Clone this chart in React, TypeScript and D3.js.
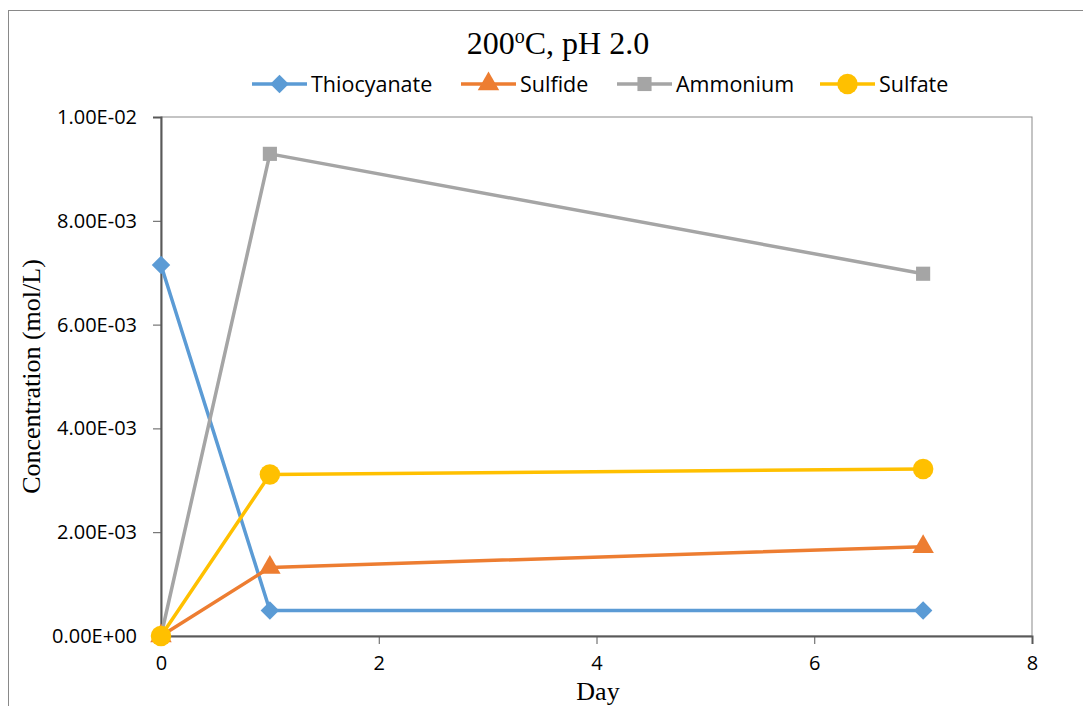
import React, { useEffect, useRef } from "react";
import * as d3 from "d3";

const days = [0, 1, 7];
const thiocyanate = [0.00715, 0.00049, 0.00049];
const sulfide = [0, 0.00132, 0.00172];
const ammonium = [0, 0.00929, 0.00698];
const sulfate = [0, 0.00311, 0.00322];
const seriesNames = ["Thiocyanate", "Sulfide", "Ammonium", "Sulfate"];
const seriesColors = ["#5B9BD5", "#ED7D31", "#A5A5A5", "#FFC000"];
const seriesShapes = ["diamond", "triangle", "square", "circle"];
const xTicks = [0, 2, 4, 6, 8];
const yTicks = [0, 0.002, 0.004, 0.006, 0.008, 0.01];

const App = () => {
  const ref = useRef<SVGSVGElement>(null);

  useEffect(() => {
    const svg = d3.select(ref.current);
    svg.selectAll("*").remove();

    const width = 1083;
    const height = 706;
    const margin = { top: 117, right: 51, bottom: 70, left: 161 };

    // outer chart border
    svg.append("rect")
      .attr("x", 8.5).attr("y", 10.5)
      .attr("width", 1200).attr("height", 800)
      .attr("fill", "white").attr("stroke", "#898989").attr("stroke-width", 1);

    const x = d3.scaleLinear().domain([0, 8]).range([margin.left, width - margin.right]);
    const y = d3.scaleLinear().domain([0, 0.01]).range([height - margin.bottom, margin.top]);

    // plot area frame
    svg.append("rect")
      .attr("x", x(0)).attr("y", y(0.01))
      .attr("width", x(8) - x(0)).attr("height", y(0) - y(0.01))
      .attr("fill", "none").attr("stroke", "#898989").attr("stroke-width", 1);

    const tickFont = "'Open Sans', Lato, sans-serif";
    const serif = "'Liberation Serif', 'Times New Roman', serif";

    // y axis
    const yAxis = svg.append("g")
      .attr("transform", `translate(${x(0)},0)`)
      .call(d3.axisLeft(y).tickValues(yTicks).tickSize(8).tickPadding(16)
        .tickFormat(d => (+d).toExponential(2).toUpperCase().replace(/E([+-])(\d)$/, "E$10$2")));
    yAxis.select(".domain").attr("stroke", "#595959").attr("stroke-width", 2);
    yAxis.selectAll(".tick line").attr("stroke", "#595959");
    yAxis.selectAll("text").attr("font-size", 20).attr("font-family", tickFont).attr("fill", "#000");

    // x axis
    const xAxis = svg.append("g")
      .attr("transform", `translate(0,${y(0)})`)
      .call(d3.axisBottom(x).tickValues(xTicks).tickSize(8).tickPadding(12).tickFormat(d3.format("d")));
    xAxis.select(".domain").attr("stroke", "#595959").attr("stroke-width", 2);
    xAxis.selectAll(".tick line").attr("stroke", "#595959");
    xAxis.selectAll("text").attr("font-size", 20).attr("font-family", tickFont).attr("fill", "#000");

    const allSeries = [thiocyanate, sulfide, ammonium, sulfate];

    const symbolFor = (shape: string) => {
      if (shape === "diamond") return d3.symbol().type(d3.symbolSquare).size(170)();
      if (shape === "triangle") return d3.symbol().type(d3.symbolTriangle).size(200)();
      if (shape === "square") return d3.symbol().type(d3.symbolSquare).size(200)();
      return d3.symbol().type(d3.symbolCircle).size(330)();
    };
    const rotFor = (shape: string) => (shape === "diamond" ? 45 : 0);

    const line = d3.line<number>()
      .x((_, i) => x(days[i]))
      .y(d => y(d));

    allSeries.forEach((vals, si) => {
      svg.append("path")
        .datum(vals)
        .attr("fill", "none")
        .attr("stroke", seriesColors[si])
        .attr("stroke-width", 3.5)
        .attr("stroke-linejoin", "round")
        .attr("d", line);
      svg.append("g").selectAll("path")
        .data(vals)
        .join("path")
        .attr("d", symbolFor(seriesShapes[si]))
        .attr("fill", seriesColors[si])
        .attr("transform", (d, i) => `translate(${x(days[i])},${y(d)}) rotate(${rotFor(seriesShapes[si])})`);
    });

    // legend
    const legendX = [252, 461, 617, 820];
    const legendY = 84;
    seriesNames.forEach((name, i) => {
      const g = svg.append("g").attr("transform", `translate(${legendX[i]},${legendY})`);
      g.append("line").attr("x1", 0).attr("x2", 55).attr("y1", 0).attr("y2", 0)
        .attr("stroke", seriesColors[i]).attr("stroke-width", 3.5);
      g.append("path").attr("d", symbolFor(seriesShapes[i]))
        .attr("fill", seriesColors[i])
        .attr("transform", `translate(27.5,0) rotate(${rotFor(seriesShapes[i])})`);
      g.append("text").attr("x", 59).attr("y", 8)
        .attr("font-size", 21.5).attr("font-family", tickFont).text(name);
    });

    // title
    const title = svg.append("text")
      .attr("x", 558).attr("y", 54)
      .attr("text-anchor", "middle")
      .attr("font-family", serif)
      .attr("font-size", 32);
    title.append("tspan").text("200");
    title.append("tspan").attr("font-size", 20).attr("dy", -11).text("o");
    title.append("tspan").attr("dy", 11).text("C, pH 2.0");

    // axis titles
    svg.append("text")
      .attr("transform", `translate(40,${(y(0) + y(0.01)) / 2}) rotate(-90)`)
      .attr("text-anchor", "middle")
      .attr("font-family", serif)
      .attr("font-size", 26)
      .text("Concentration (mol/L)");
    svg.append("text")
      .attr("x", 598).attr("y", 700)
      .attr("text-anchor", "middle")
      .attr("font-family", serif)
      .attr("font-size", 26)
      .text("Day");
  }, []);

  return (
    <div style={{ position: "fixed", left: 0, top: 0 }}>
      <svg ref={ref} width={1083} height={706} style={{ display: "block", background: "white" }} />
    </div>
  );
};

export default App;
